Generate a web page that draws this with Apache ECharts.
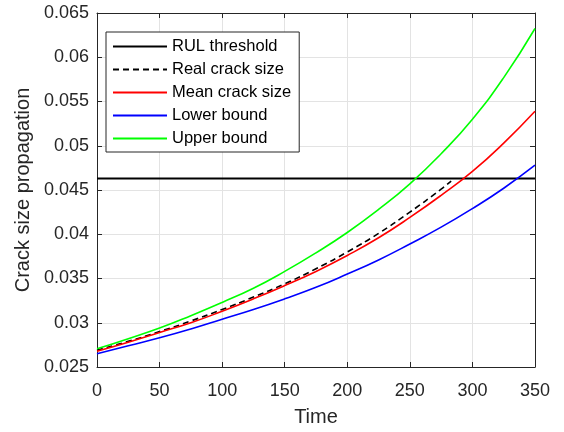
<!DOCTYPE html>
<html>
<head>
<meta charset="utf-8">
<script src="https://cdn.jsdelivr.net/npm/echarts@6/dist/echarts.min.js"></script>
<style>html,body{margin:0;padding:0;background:#fff}#c{width:564px;height:432px}</style>
</head>
<body>
<div id="c"></div>
<script>
// ---- data ----
const time = [0, 25, 50, 75, 100, 125, 150, 175, 200, 225, 250, 275, 300, 325, 350];
const realTime = [0, 25, 50, 75, 100, 125, 150, 175, 200, 225, 250, 275, 283];
const realCrack = [0.0269, 0.0279, 0.0290, 0.0302, 0.0315, 0.0329, 0.0344, 0.0361, 0.0380, 0.0401, 0.0425, 0.0451, 0.0460];
const meanCrack = [0.02679, 0.0278, 0.0289, 0.0300, 0.0313, 0.0327, 0.0342, 0.0358, 0.0376, 0.0396, 0.0419, 0.0444, 0.0471, 0.0503, 0.0539];
const lowerBound = [0.02649, 0.0274, 0.0283, 0.0293, 0.0304, 0.0315, 0.0327, 0.0340, 0.0355, 0.0371, 0.0389, 0.0408, 0.0429, 0.0452, 0.0478];
const upperBound = [0.02705, 0.0282, 0.0294, 0.0308, 0.0323, 0.0339, 0.0358, 0.0379, 0.0402, 0.0428, 0.0457, 0.0491, 0.0530, 0.0577, 0.06325];
const thresholdTime = [0, 350];
const threshold = [0.0463, 0.0463];
const seriesNames = ['RUL threshold', 'Real crack size', 'Mean crack size', 'Lower bound', 'Upper bound'];
const xTicks = [0, 50, 100, 150, 200, 250, 300, 350];
const yTickLabels = ['0.025', '0.03', '0.035', '0.04', '0.045', '0.05', '0.055', '0.06', '0.065'];

const pairs = (xs, ys) => xs.map((x, i) => [x, ys[i]]);
const FONT = '"Liberation Sans", Arial, Helvetica, sans-serif';
const AX = '#262626';

const chart = echarts.init(document.getElementById('c'), null, {renderer: 'canvas'});
const baseAxis = {
  axisLine: {show: true, onZero: false, lineStyle: {color: AX, width: 1}},
  axisTick: {show: true, inside: true, length: 5, lineStyle: {color: AX}},
};
chart.setOption({
  animation: false,
  backgroundColor: '#fff',
  grid: {left: 97, right: 29, top: 13, bottom: 62, containLabel: false},
  legend: {
    orient: 'vertical', left: 106, top: 32,
    padding: [6, 8, 5, 6],
    itemWidth: 54, itemHeight: 16, itemGap: 6,
    backgroundColor: '#fff', borderColor: AX, borderWidth: 1,
    itemStyle: {opacity: 0},
    textStyle: {fontFamily: FONT, fontSize: 16.5, color: '#000'},
    data: seriesNames
  },
  xAxis: [
    Object.assign({}, baseAxis, {
      type: 'value', min: 0, max: 350, interval: 50,
      name: 'Time', nameLocation: 'middle', nameGap: 40,
      nameTextStyle: {fontFamily: FONT, fontSize: 20, color: AX},
      axisLabel: {fontFamily: FONT, fontSize: 18, color: AX, margin: 15,
        formatter: v => xTicks.includes(v) ? String(v) : ''},
      splitLine: {show: true, lineStyle: {color: '#e3e3e3', width: 1}}
    }),
    Object.assign({}, baseAxis, {
      type: 'value', position: 'top', min: 0, max: 350, interval: 50,
      axisLabel: {show: false}, splitLine: {show: false}
    })
  ],
  yAxis: [
    Object.assign({}, baseAxis, {
      type: 'value', min: 0.025, max: 0.065, interval: 0.005,
      name: 'Crack size propagation', nameLocation: 'middle', nameGap: 59,
      nameTextStyle: {fontFamily: FONT, fontSize: 20, color: AX},
      axisLabel: {fontFamily: FONT, fontSize: 18, color: AX, margin: 8,
        formatter: (v, i) => yTickLabels[Math.round((v - 0.025) / 0.005)]},
      splitLine: {show: true, lineStyle: {color: '#e3e3e3', width: 1}}
    }),
    Object.assign({}, baseAxis, {
      type: 'value', position: 'right', min: 0.025, max: 0.065, interval: 0.005,
      axisLabel: {show: false}, splitLine: {show: false}
    })
  ],
  series: [
    {name: seriesNames[0], type: 'line', data: pairs(thresholdTime, threshold),
      symbol: 'none', lineStyle: {color: '#000', width: 1.8}, itemStyle: {color: '#000'}},
    {name: seriesNames[1], type: 'line', data: pairs(realTime, realCrack), smooth: 0.5,
      symbol: 'none', lineStyle: {color: '#000', width: 1.6, type: [6, 4]}, itemStyle: {color: '#000'}},
    {name: seriesNames[2], type: 'line', data: pairs(time, meanCrack), smooth: 0.5,
      symbol: 'none', lineStyle: {color: '#ff0000', width: 1.6}, itemStyle: {color: '#ff0000'}},
    {name: seriesNames[3], type: 'line', data: pairs(time, lowerBound), smooth: 0.5,
      symbol: 'none', lineStyle: {color: '#0000ff', width: 1.6}, itemStyle: {color: '#0000ff'}},
    {name: seriesNames[4], type: 'line', data: pairs(time, upperBound), smooth: 0.5,
      symbol: 'none', lineStyle: {color: '#00ff00', width: 1.6}, itemStyle: {color: '#00ff00'}}
  ].map(s => Object.assign(s, {emphasis: {disabled: true}, silent: true}))
});
</script>
</body>
</html>
